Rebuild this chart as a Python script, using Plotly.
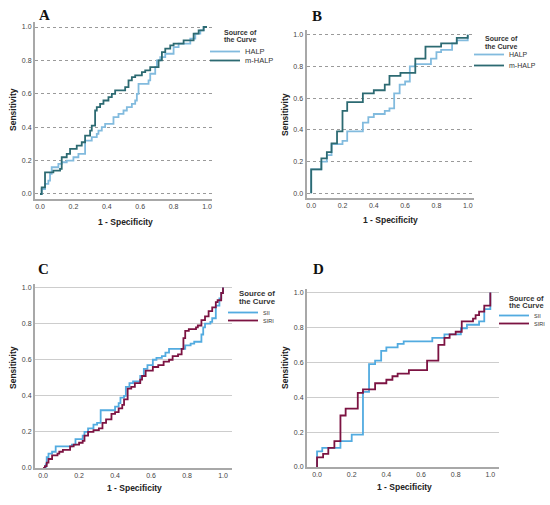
import plotly.graph_objects as go

W, H = 550, 505

# ---------------- data ----------------
# Panel A
a_halp_x = [0, 0.01, 0.03, 0.05, 0.06, 0.07, 0.11, 0.13, 0.16, 0.20, 0.23, 0.27, 0.31, 0.34, 0.35, 0.37, 0.39,
            0.44, 0.47, 0.50, 0.52, 0.55, 0.57, 0.58, 0.59, 0.65, 0.66, 0.69, 0.70, 0.72, 0.75, 0.80, 0.83,
            0.90, 0.93, 0.96, 0.98, 1.0]
a_halp_y = [0, 0.03, 0.06, 0.08, 0.12, 0.16, 0.18, 0.19, 0.20, 0.22, 0.24, 0.32, 0.34, 0.36, 0.38, 0.40, 0.42,
            0.46, 0.48, 0.50, 0.52, 0.54, 0.56, 0.60, 0.66, 0.68, 0.72, 0.76, 0.80, 0.82, 0.84, 0.88, 0.90,
            0.93, 0.96, 0.98, 1.0, 1.0]
a_mhalp_x = [0, 0.01, 0.03, 0.08, 0.12, 0.13, 0.16, 0.18, 0.22, 0.25, 0.27, 0.30, 0.31, 0.33, 0.34, 0.36, 0.38,
             0.41, 0.43, 0.45, 0.51, 0.53, 0.55, 0.57, 0.61, 0.63, 0.66, 0.71, 0.73, 0.75, 0.78, 0.80, 0.86,
             0.92, 0.95, 0.98, 1.0]
a_mhalp_y = [0, 0.04, 0.13, 0.14, 0.15, 0.22, 0.24, 0.27, 0.29, 0.31, 0.35, 0.38, 0.41, 0.50, 0.52, 0.54, 0.56,
             0.58, 0.60, 0.62, 0.64, 0.68, 0.70, 0.71, 0.73, 0.74, 0.76, 0.80, 0.85, 0.87, 0.89, 0.90, 0.92,
             0.96, 0.98, 1.0, 1.0]

# Panel B
b_halp_x = [0, 0, 0.065, 0.10, 0.13, 0.20, 0.23, 0.33, 0.365, 0.40, 0.47, 0.50, 0.53, 0.565, 0.60, 0.63, 0.665,
            0.765, 0.80, 0.83, 0.90, 0.93, 1.0]
b_halp_y = [0, 0.15, 0.20, 0.24, 0.31, 0.33, 0.39, 0.445, 0.48, 0.50, 0.52, 0.535, 0.63, 0.685, 0.705, 0.80, 0.815,
            0.85, 0.89, 0.905, 0.945, 0.965, 1.0]
b_mhalp_x = [0, 0, 0.065, 0.10, 0.13, 0.165, 0.20, 0.23, 0.33, 0.40, 0.47, 0.50, 0.57, 0.665, 0.73, 0.83, 0.93, 1.0]
b_mhalp_y = [0, 0.15, 0.22, 0.26, 0.315, 0.39, 0.52, 0.575, 0.63, 0.65, 0.685, 0.74, 0.76, 0.85, 0.925, 0.945,
             0.98, 1.0]

# Panel C
c_sii_x = [0, 0.015, 0.02, 0.03, 0.05, 0.07, 0.16, 0.18, 0.22, 0.23, 0.25, 0.28, 0.30, 0.32, 0.40, 0.42, 0.43,
           0.45, 0.46, 0.48, 0.50, 0.54, 0.56, 0.58, 0.61, 0.63, 0.66, 0.68, 0.70, 0.79, 0.82, 0.84, 0.88,
           0.89, 0.90, 0.93, 0.94, 0.96, 0.98, 0.99, 1.0]
c_sii_y = [0, 0.02, 0.06, 0.08, 0.09, 0.12, 0.13, 0.16, 0.18, 0.20, 0.22, 0.24, 0.25, 0.32, 0.34, 0.36, 0.39,
           0.40, 0.45, 0.47, 0.48, 0.51, 0.55, 0.57, 0.60, 0.61, 0.62, 0.64, 0.66, 0.68, 0.69, 0.70, 0.74,
           0.78, 0.80, 0.81, 0.83, 0.90, 0.94, 0.97, 1.0]
c_siri_x = [0, 0.01, 0.02, 0.03, 0.05, 0.08, 0.09, 0.11, 0.15, 0.17, 0.20, 0.22, 0.23, 0.25, 0.28, 0.31, 0.33,
            0.35, 0.38, 0.40, 0.42, 0.44, 0.45, 0.47, 0.49, 0.51, 0.54, 0.55, 0.57, 0.61, 0.64, 0.67, 0.70,
            0.72, 0.75, 0.77, 0.78, 0.79, 0.81, 0.85, 0.86, 0.88, 0.90, 0.92, 0.94, 0.96, 0.97, 0.99, 1.0]
c_siri_y = [0, 0.01, 0.03, 0.05, 0.07, 0.08, 0.09, 0.10, 0.12, 0.13, 0.14, 0.15, 0.18, 0.20, 0.21, 0.22, 0.25,
            0.27, 0.30, 0.31, 0.33, 0.35, 0.38, 0.44, 0.45, 0.47, 0.49, 0.51, 0.54, 0.56, 0.57, 0.59, 0.60,
            0.62, 0.63, 0.66, 0.72, 0.76, 0.77, 0.78, 0.79, 0.82, 0.84, 0.87, 0.89, 0.92, 0.93, 0.97, 1.0]

# Panel D
d_sii_x = [0, 0, 0.03, 0.135, 0.20, 0.265, 0.30, 0.335, 0.37, 0.40, 0.465, 0.50, 0.665, 0.735, 0.83, 0.865,
           0.935, 0.965, 1.0]
d_sii_y = [0, 0.09, 0.11, 0.148, 0.185, 0.43, 0.59, 0.61, 0.665, 0.685, 0.705, 0.72, 0.74, 0.76, 0.795, 0.815,
           0.835, 0.905, 1.0]
d_siri_x = [0, 0, 0.035, 0.065, 0.10, 0.135, 0.165, 0.235, 0.265, 0.335, 0.40, 0.435, 0.465, 0.53, 0.635, 0.70,
            0.735, 0.765, 0.80, 0.835, 0.90, 0.915, 0.935, 0.965, 1.0]
d_siri_y = [0, 0.055, 0.075, 0.11, 0.148, 0.295, 0.335, 0.425, 0.445, 0.48, 0.50, 0.52, 0.535, 0.555, 0.61, 0.70,
            0.74, 0.76, 0.775, 0.835, 0.85, 0.87, 0.89, 0.925, 1.0]

tick_vals = [0, 0.2, 0.4, 0.6, 0.8, 1.0]
panel_letters = ["A", "B", "C", "D"]
names_top = ["HALP", "m-HALP"]
names_bottom = ["SII", "SIRI"]
legend_title_lines = ["Source of", "the Curve"]

# ---------------- style ----------------
C_HALP = "#82bbde"
C_MHALP = "#2c6a72"
C_SII = "#52abe0"
C_SIRI = "#7c1342"
AXIS_GRAY = "#a8a8a8"
SANS = "Liberation Sans, Arial, sans-serif"
SERIF = "Liberation Serif, Times New Roman, serif"


def px_dom_x(a, b):
    return [a / W, b / W]


def px_dom_y(top, bottom):
    return [1 - bottom / H, 1 - top / H]


panels = [
    dict(x=px_dom_x(35, 212), y=px_dom_y(22, 199), xr=[-0.03, 1.03], yr=[-0.03, 1.03], dotted=True),
    dict(x=px_dom_x(306.5, 474), y=px_dom_y(30, 198), xr=[-0.03, 1.04], yr=[-0.03, 1.03], dotted=True),
    dict(x=px_dom_x(35, 232), y=px_dom_y(284, 468), xr=[-0.045, 1.05], yr=[0, 1.02], dotted=False),
    dict(x=px_dom_x(307, 499), y=px_dom_y(289, 467), xr=[-0.058, 1.05], yr=[0, 1.02], dotted=False),
]

series = [
    [(a_halp_x, a_halp_y, names_top[0], C_HALP), (a_mhalp_x, a_mhalp_y, names_top[1], C_MHALP)],
    [(b_halp_x, b_halp_y, names_top[0], C_HALP), (b_mhalp_x, b_mhalp_y, names_top[1], C_MHALP)],
    [(c_sii_x, c_sii_y, names_bottom[0], C_SII), (c_siri_x, c_siri_y, names_bottom[1], C_SIRI)],
    [(d_sii_x, d_sii_y, names_bottom[0], C_SII), (d_siri_x, d_siri_y, names_bottom[1], C_SIRI)],
]

# legend item boxes (px): (left, top item1, top item2, font size)
legend_pos = [
    (205, 37, 46, 7.5),
    (469, 40, 51, 7),
    (223, 298, 306, 5.5),
    (494, 301, 309, 5.5),
]
# legend titles (px): (left, y line1, y line2, font size)
legend_title_pos = [
    (222, 32, 39.5, 7),
    (483, 39, 46.5, 7),
    (237, 293.5, 301.5, 7.8),
    (507, 298, 305.5, 7.5),
]

fig = go.Figure()
layout = dict(
    width=W, height=H, margin=dict(l=0, r=0, t=0, b=0, autoexpand=False),
    paper_bgcolor="white", plot_bgcolor="white", showlegend=True,
    font=dict(family=SANS, color="#333333"),
    annotations=[],
)

leg_counter = 1
for i, p in enumerate(panels):
    sfx = "" if i == 0 else str(i + 1)
    xa, ya = "x" + sfx, "y" + sfx
    grid_color = "#9a9a9a" if p["dotted"] else "#cdcdcd"
    layout["xaxis" + sfx] = dict(
        domain=p["x"], range=p["xr"], anchor=ya, tickvals=tick_vals, tickformat=".1f",
        showgrid=False, zeroline=False, showline=True, linecolor=AXIS_GRAY, linewidth=2,
        ticks="", tickfont=dict(size=7, color="#444444"), fixedrange=True,
    )
    layout["yaxis" + sfx] = dict(
        domain=p["y"], range=p["yr"], anchor=xa, tickvals=tick_vals, tickformat=".1f",
        showgrid=True, gridcolor=grid_color, gridwidth=1 if p["dotted"] else 1.3,
        griddash="dot" if p["dotted"] else "solid",
        zeroline=False, showline=True, linecolor=AXIS_GRAY, linewidth=2,
        ticks="", tickfont=dict(size=7, color="#444444"), fixedrange=True,
    )
    lx, lt1, lt2, lfs = legend_pos[i]
    for j, (sx, sy, nm, col) in enumerate(series[i]):
        lid = "legend" if leg_counter == 1 else "legend" + str(leg_counter)
        fig.add_trace(go.Scatter(
            x=sx, y=sy, mode="lines", line=dict(color=col, width=1.8, shape="hv"),
            name=nm, xaxis=xa, yaxis=ya, legend=lid, hoverinfo="skip",
        ))
        layout[lid] = dict(
            x=lx / W, y=1 - (lt1 if j == 0 else lt2) / H, xanchor="left", yanchor="top",
            bgcolor="rgba(0,0,0,0)", borderwidth=0, font=dict(size=lfs, color="#333333", family=SANS),
            itemwidth=30, tracegroupgap=0,
        )
        leg_counter += 1
    tx, ty1, ty2, tfs = legend_title_pos[i]
    for txt, ty in zip(legend_title_lines, (ty1, ty2)):
        layout["annotations"].append(dict(
            text="<b>%s</b>" % txt, x=tx / W, y=1 - ty / H, xref="paper", yref="paper",
            showarrow=False, font=dict(family=SANS, size=tfs, color="#333333"),
            xanchor="left", yanchor="middle"))

# panel letters and axis titles (px positions)
letters_px = [(44, 15), (317, 16), (43, 269), (318, 269)]
ytitle_px = [(13, 110), (285, 115), (13, 368), (285, 368)]
xtitle_px = [(125, 222), (390, 220), (134, 488), (404, 487)]
for i in range(4):
    lx, ly = letters_px[i]
    layout["annotations"].append(dict(
        text="<b>%s</b>" % panel_letters[i], x=lx / W, y=1 - ly / H, xref="paper", yref="paper",
        showarrow=False, font=dict(family=SERIF, size=15, color="#111111"), xanchor="center", yanchor="middle"))
    tx, ty = ytitle_px[i]
    layout["annotations"].append(dict(
        text="<b>Sensitivity</b>", x=tx / W, y=1 - ty / H, xref="paper", yref="paper", textangle=-90,
        showarrow=False, font=dict(family=SANS, size=8.5, color="#222222"), xanchor="center", yanchor="middle"))
    tx, ty = xtitle_px[i]
    layout["annotations"].append(dict(
        text="<b>1 - Specificity</b>", x=tx / W, y=1 - ty / H, xref="paper", yref="paper",
        showarrow=False, font=dict(family=SANS, size=8.5, color="#222222"), xanchor="center", yanchor="middle"))

fig.update_layout(**layout)
fig.write_html(
    "out.html",
    config={"displayModeBar": False},
    post_script="document.body.style.margin='0';document.body.style.padding='0';",
)
